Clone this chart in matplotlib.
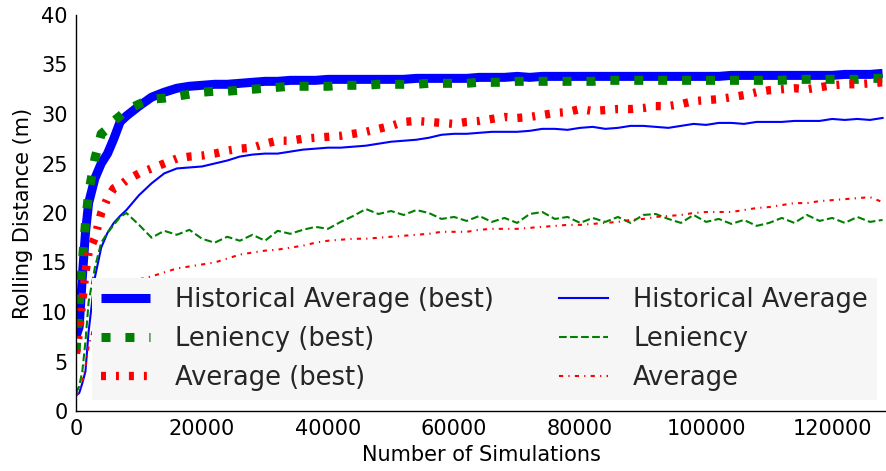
import matplotlib
matplotlib.use("Agg")
import matplotlib.pyplot as plt

# Number of simulations at which the rolling distance was recorded
sims = [0, 500, 1000, 1500, 2000, 3000, 4000, 5000, 6000, 7000, 8000,
        10000, 12000, 14000, 16000, 18000, 20000, 22000, 24000, 26000, 28000,
        30000, 32000, 34000, 36000, 38000, 40000, 42000, 44000, 46000, 48000,
        50000, 52000, 54000, 56000, 58000, 60000, 62000, 64000, 66000, 68000,
        70000, 72000, 74000, 76000, 78000, 80000, 82000, 84000, 86000, 88000,
        90000, 92000, 94000, 96000, 98000, 100000, 102000, 104000, 106000, 108000,
        110000, 112000, 114000, 116000, 118000, 120000, 122000, 124000, 126000, 128000]

hist_best = [7.5, 8.5, 13.5, 18.0, 21.0, 23.5, 25.0, 26.0, 27.5, 29.2, 29.8,
             30.8, 31.7, 32.2, 32.6, 32.8, 32.9, 33.0, 33.0, 33.1, 33.2,
             33.3, 33.3, 33.4, 33.4, 33.4, 33.5, 33.5, 33.5, 33.5, 33.5,
             33.5, 33.5, 33.6, 33.6, 33.6, 33.6, 33.6, 33.7, 33.7, 33.7,
             33.8, 33.7, 33.8, 33.8, 33.8, 33.8, 33.8, 33.8, 33.8, 33.8,
             33.8, 33.8, 33.8, 33.8, 33.8, 33.8, 33.8, 33.9, 33.9, 33.9,
             33.9, 33.9, 33.9, 33.9, 33.9, 33.9, 34.0, 34.0, 34.0, 34.1]

len_best = [6.0, 10.5, 15.0, 19.0, 22.0, 25.5, 28.0, 28.5, 29.3, 29.8, 30.4,
            31.0, 31.5, 31.6, 31.8, 32.0, 32.2, 32.3, 32.3, 32.4, 32.5,
            32.6, 32.7, 32.8, 32.8, 32.8, 32.8, 32.9, 32.9, 32.9, 33.0,
            33.0, 33.0, 33.0, 33.1, 33.1, 33.1, 33.1, 33.2, 33.2, 33.2,
            33.3, 33.3, 33.3, 33.3, 33.3, 33.3, 33.3, 33.4, 33.4, 33.4,
            33.4, 33.4, 33.4, 33.4, 33.4, 33.4, 33.4, 33.4, 33.4, 33.4,
            33.4, 33.4, 33.5, 33.5, 33.5, 33.5, 33.5, 33.5, 33.6, 33.6]

avg_best = [5.8, 8.0, 11.0, 14.0, 16.0, 17.5, 20.0, 21.5, 22.5, 22.8, 23.3,
            24.0, 24.5, 25.0, 25.5, 25.7, 25.8, 26.0, 26.3, 26.5, 26.6,
            27.0, 27.3, 27.3, 27.5, 27.6, 27.7, 27.8, 28.0, 28.2, 28.5,
            28.8, 29.2, 29.3, 29.2, 29.1, 29.0, 29.2, 29.3, 29.5, 29.7,
            29.6, 29.7, 29.9, 30.1, 30.2, 30.5, 30.3, 30.4, 30.5, 30.5,
            30.6, 30.8, 30.8, 31.0, 31.3, 31.4, 31.5, 31.7, 31.9, 32.2,
            32.4, 32.5, 32.6, 32.5, 32.7, 32.9, 33.0, 33.0, 33.1, 33.2]

hist = [1.6, 1.8, 2.8, 4.0, 8.0, 13.5, 16.5, 18.0, 19.0, 19.7, 20.3,
        21.8, 23.0, 24.0, 24.5, 24.6, 24.7, 25.0, 25.3, 25.7, 25.9,
        26.0, 26.0, 26.2, 26.4, 26.5, 26.6, 26.6, 26.7, 26.8, 27.0,
        27.2, 27.3, 27.4, 27.6, 27.9, 28.0, 28.0, 28.1, 28.2, 28.2,
        28.2, 28.3, 28.5, 28.5, 28.4, 28.6, 28.7, 28.5, 28.6, 28.8,
        28.8, 28.7, 28.6, 28.8, 29.0, 28.9, 29.1, 29.1, 29.0, 29.2,
        29.2, 29.2, 29.3, 29.3, 29.3, 29.5, 29.4, 29.5, 29.4, 29.6]

leniency = [1.8, 2.5, 4.0, 7.0, 11.0, 14.5, 17.0, 18.0, 18.8, 19.6, 20.0,
            18.8, 17.5, 18.2, 17.8, 18.3, 17.4, 17.0, 17.6, 17.2, 17.8,
            17.2, 18.2, 17.9, 18.3, 18.6, 18.4, 19.1, 19.7, 20.4, 19.9,
            20.2, 19.8, 20.3, 20.0, 19.4, 19.6, 19.2, 19.7, 19.1, 19.5,
            19.0, 19.9, 20.1, 19.4, 19.6, 19.0, 19.5, 19.1, 19.6, 19.0,
            19.8, 19.9, 19.4, 19.0, 19.8, 19.1, 19.4, 18.9, 19.3, 18.7,
            19.0, 19.5, 19.0, 19.8, 19.2, 19.5, 19.0, 19.6, 19.1, 19.3]

average = [1.5, 2.0, 3.0, 4.5, 6.5, 9.0, 10.5, 11.5, 12.2, 12.6, 12.9,
           13.3, 13.6, 14.0, 14.4, 14.6, 14.8, 15.0, 15.4, 15.8, 16.0,
           16.2, 16.3, 16.5, 16.7, 17.0, 17.2, 17.3, 17.4, 17.4, 17.5,
           17.6, 17.7, 17.8, 17.9, 18.1, 18.1, 18.1, 18.3, 18.4, 18.4,
           18.4, 18.5, 18.6, 18.7, 18.8, 18.8, 18.9, 19.0, 19.1, 19.3,
           19.4, 19.6, 19.7, 19.8, 20.0, 20.1, 20.1, 20.1, 20.3, 20.5,
           20.6, 20.8, 21.0, 21.0, 21.2, 21.3, 21.4, 21.5, 21.6, 21.1]

labels = ["Historical Average (best)", "Leniency (best)", "Average (best)",
          "Historical Average", "Leniency", "Average"]

plt.rcParams["font.family"] = ["DejaVu Sans"]

fig = plt.figure(figsize=(8.87, 4.71), dpi=100)
ax = fig.add_axes([76 / 887, 60 / 471, 811 / 887, 396 / 471])

ax.plot(sims, hist_best, color="blue", lw=6.5, solid_capstyle="butt",
        label=labels[0])
ax.plot(sims, len_best, color="green", lw=6.5, linestyle=(0, (1, 1.65)),
        label=labels[1])
ax.plot(sims, avg_best, color="red", lw=6.0,
        linestyle=(0, (0.6, 1.2, 0.35, 1.2)), label=labels[2])
ax.plot(sims, hist, color="blue", lw=1.5, label=labels[3])
ax.plot(sims, leniency, color="green", lw=1.5, linestyle=(0, (3.7, 1.6)),
        label=labels[4])
ax.plot(sims, average, color="red", lw=1.5,
        linestyle=(0, (2.0, 2.5, 0.6, 2.5)), label=labels[5])

ax.set_xlim(0, 128700)
ax.set_ylim(0, 40)
ax.set_xticks([0, 20000, 40000, 60000, 80000, 100000, 120000])
ax.set_yticks(range(0, 41, 5))
ax.tick_params(axis="both", length=0, labelsize=15, pad=6)
for side in ("top", "right"):
    ax.spines[side].set_visible(False)
for side in ("left", "bottom"):
    ax.spines[side].set_color("black")
    ax.spines[side].set_linewidth(1.0)

ax.set_xlabel("Number of Simulations", fontsize=15, labelpad=4)
ax.set_ylabel("Rolling Distance (m)", fontsize=15, labelpad=6)

leg = ax.legend(ncol=2, loc="lower left", mode="expand",
                bbox_to_anchor=(0.0197, 0.028, 0.968, 0.31),
                borderaxespad=0, fontsize=18.5, frameon=True, fancybox=False,
                handlelength=1.9, handletextpad=1.0, labelspacing=0.5,
                borderpad=0.35)
leg.get_frame().set_facecolor("#f6f6f6")
leg.get_frame().set_edgecolor("none")
leg.get_frame().set_alpha(1.0)
for text in leg.get_texts():
    text.set_color("#262626")

fig.savefig("out.png", dpi=100)
